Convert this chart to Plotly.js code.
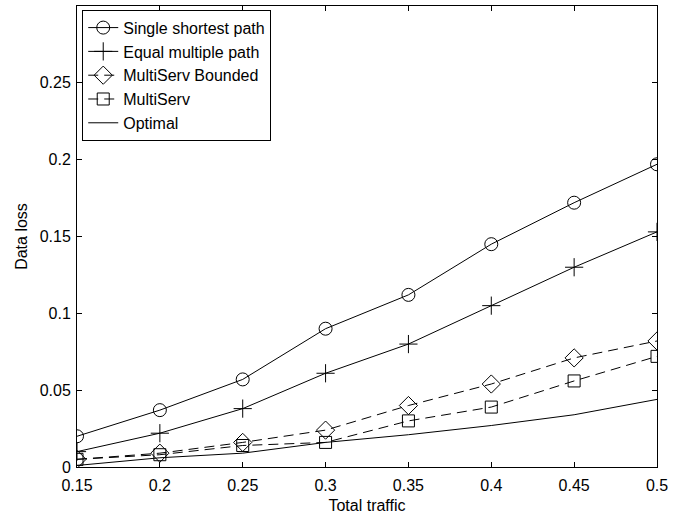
<!DOCTYPE html>
<html>
<head>
<meta charset="utf-8">
<script src="https://cdn.plot.ly/plotly-3.0.1.min.js"></script>
<style>html,body{margin:0;padding:0;background:#fff;}#chart{width:683px;height:514px;}</style>
</head>
<body>
<div id="chart"></div>
<script>
const traffic = [0.15, 0.2, 0.25, 0.3, 0.35, 0.4, 0.45, 0.5];
const singleShortest = [0.020, 0.037, 0.057, 0.090, 0.112, 0.145, 0.172, 0.197];
const equalMultiple = [0.010, 0.022, 0.038, 0.061, 0.080, 0.105, 0.130, 0.153];
const multiServBounded = [0.005, 0.009, 0.016, 0.024, 0.040, 0.054, 0.071, 0.082];
const multiServ = [0.005, 0.008, 0.014, 0.016, 0.030, 0.039, 0.056, 0.072];
const optimal = [0.001, 0.006, 0.009, 0.016, 0.021, 0.027, 0.034, 0.044];
const xTicks = [0.15, 0.2, 0.25, 0.3, 0.35, 0.4, 0.45, 0.5];
const yTicks = [0, 0.05, 0.1, 0.15, 0.2, 0.25];

const lineBase = {color: '#000', width: 1};
const traces = [
  {x: traffic, y: singleShortest, name: 'Single shortest path', mode: 'lines+markers',
   line: Object.assign({}, lineBase), marker: {symbol: 'circle-open', size: 13, color: '#000', line: {width: 1}}},
  {x: traffic, y: equalMultiple, name: 'Equal multiple path', mode: 'lines+markers',
   line: Object.assign({}, lineBase), marker: {symbol: 'cross-thin-open', size: 13, color: '#000', line: {width: 1}}},
  {x: traffic, y: multiServBounded, name: 'MultiServ Bounded', mode: 'lines+markers',
   line: Object.assign({dash: '10px,6px'}, lineBase), marker: {symbol: 'diamond-open', size: 14, color: '#000', line: {width: 1}}},
  {x: traffic, y: multiServ, name: 'MultiServ', mode: 'lines+markers',
   line: Object.assign({dash: '10px,6px'}, lineBase), marker: {symbol: 'square-open', size: 12, color: '#000', line: {width: 1}}},
  {x: traffic, y: optimal, name: 'Optimal', mode: 'lines',
   line: Object.assign({}, lineBase)}
];

const layout = {
  width: 683, height: 514,
  margin: {l: 77, r: 26, t: 6, b: 47},
  paper_bgcolor: '#fff', plot_bgcolor: '#fff',
  font: {family: 'Liberation Sans, Arial, sans-serif', size: 16, color: '#000'},
  showlegend: true,
  legend: {x: 0.009, y: 0.992, xanchor: 'left', yanchor: 'top', bordercolor: '#000', borderwidth: 1,
           bgcolor: '#fff', font: {size: 16}, tracegroupgap: 0, itemwidth: 30},
  xaxis: {range: [0.15, 0.5], tickvals: xTicks, ticktext: xTicks.map(String),
          ticks: 'inside', ticklen: 5, tickcolor: '#000', showline: true, linecolor: '#000', linewidth: 1,
          mirror: 'ticks', showgrid: false, zeroline: false, tickfont: {size: 16}, ticklabelstandoff: 4,
          title: {text: 'Total traffic', standoff: 6, font: {size: 16}}},
  yaxis: {range: [0, 0.3], tickvals: yTicks, ticktext: yTicks.map(String),
          ticks: 'inside', ticklen: 5, tickcolor: '#000', showline: true, linecolor: '#000', linewidth: 1,
          mirror: 'ticks', showgrid: false, zeroline: false, tickfont: {size: 16}, ticklabelstandoff: 2,
          title: {text: 'Data loss', standoff: 8, font: {size: 16}}}
};

Plotly.newPlot('chart', traces, layout, {displayModeBar: false, staticPlot: true});
</script>
</body>
</html>
